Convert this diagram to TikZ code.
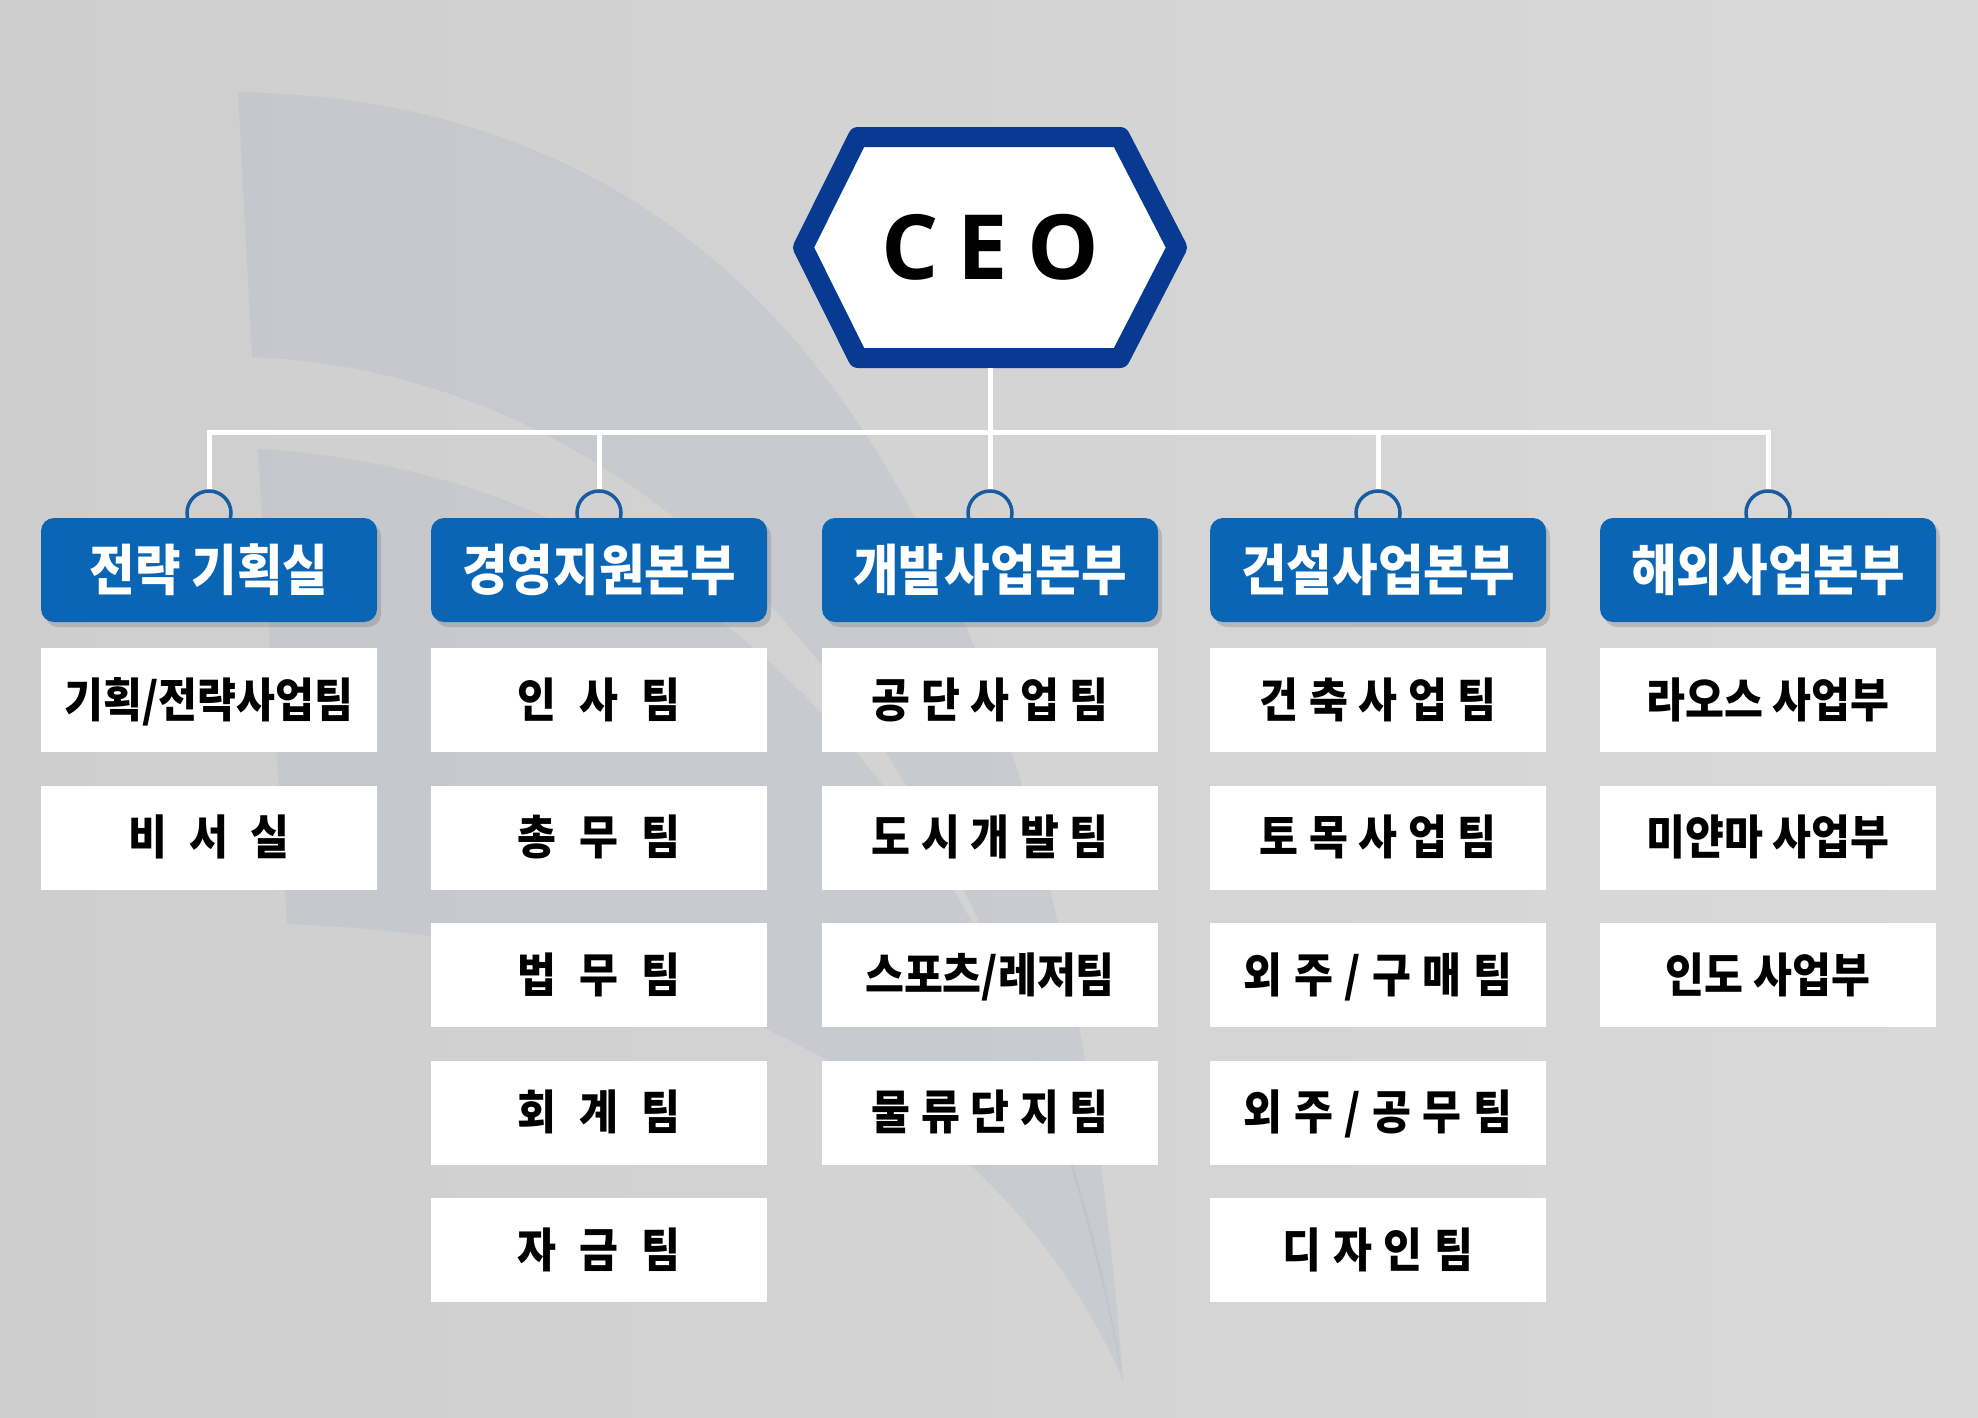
\documentclass[tikz,border=0pt]{standalone}
\usepackage{fontspec}
\usetikzlibrary{shadows,calc}
\newfontfamily\krfont{Noto Sans CJK KR}[FakeStretch=0.9]
\newfontfamily\ceofont{Open Sans}
\definecolor{hexblue}{RGB}{8,58,146}
\definecolor{headblue}{RGB}{10,102,180}
\definecolor{ringblue}{RGB}{24,92,160}
\definecolor{bgL}{RGB}{206,206,206}
\definecolor{bgM}{RGB}{224,224,224}
\definecolor{bgR}{RGB}{217,217,217}
\definecolor{swooshc}{RGB}{160,175,195}
\newcommand\headfont{\krfont\bfseries\fontsize{55}{64}\selectfont}
\newcommand\teamfont{\krfont\bfseries\fontsize{47}{56}\selectfont}
\begin{document}
\begin{tikzpicture}[x=1pt,y=-1pt,
  wire/.style={draw=white, line width=5pt},
  ring/.style={circle, draw=ringblue, line width=3.5pt, minimum size=44pt, inner sep=0pt},
  headbox/.style={rectangle, rounded corners=13pt, fill=headblue, text=white,
    minimum width=336pt, minimum height=104pt, inner sep=0pt, font=\headfont,
    text height=44pt, text depth=3.9pt,
    drop shadow={shadow xshift=4pt, shadow yshift=-5pt, opacity=0.35}},
  teambox/.style={rectangle, fill=white, text=black, minimum width=336pt,
    minimum height=104pt, inner sep=0pt, text height=37.6pt, text depth=3.3pt,
    font={\teamfont\spaceskip=#1\relax}},
  teambox/.default=0pt,
  ceostyle/.style={font={\ceofont\bfseries\fontsize{90}{100}\selectfont\spaceskip=19pt\relax},
    minimum width=394pt, minimum height=241pt, inner sep=0pt, text=black},
  hexline/.style={draw=hexblue, line width=20pt, line join=round, fill=white},
  swoosh/.style={fill=swooshc, fill opacity=0.22, draw=none}
]
\useasboundingbox (0,0) rectangle (1978,1417);
% background
\shade[left color=bgL, middle color=bgM, right color=bgR] (0,0) rectangle (1978,1417);
\path[swoosh] (238,92) .. controls (700,100) and (1050,420) .. (1123,1380)
   .. controls (980,650) and (600,370) .. (252,357) -- cycle;
\path[swoosh] (258,449) .. controls (650,470) and (1020,760) .. (1123,1380)
   .. controls (1000,1100) and (700,940) .. (287,924) -- cycle;

% CEO
\draw[hexline] (803,247.5) -- (858,137) -- (1120,137) -- (1177,247.5) -- (1120,358) -- (858,358) -- cycle;
\node[ceostyle] (ceo) at (990,247.5) {C E O};

% rings
\node[ring] (r1) at (209,513) {};
\node[ring] (r2) at (599,513) {};
\node[ring] (r3) at (990,513) {};
\node[ring] (r4) at (1378,513) {};
\node[ring] (r5) at (1768,513) {};

% wires
\coordinate (bus) at (990,432);
\draw[wire] (ceo.south) -- (bus);
\draw[wire, line join=miter] (r1.north) -- (r1.north |- bus) -- (r5.north |- bus) -- (r5.north);
\draw[wire] (r2.north) -- (r2.north |- bus);
\draw[wire] (r3.north) -- (r3.north |- bus);
\draw[wire] (r4.north) -- (r4.north |- bus);

% heads
\node[headbox] (h1) at (209,570) {전략 기획실};
\node[headbox] (h2) at (599,570) {경영지원본부};
\node[headbox] (h3) at (990,570) {개발사업본부};
\node[headbox] (h4) at (1378,570) {건설사업본부};
\node[headbox] (h5) at (1768,570) {해외사업본부};

% column 1
\node[teambox] (t11) at (209,700) {기획/전략사업팀};
\node[teambox=22pt] (t12) at (209,837.5) {비 서 실};
% column 2
\node[teambox=23.5pt] (t21) at (599,700) {인 사 팀};
\node[teambox=23.5pt] (t22) at (599,837.5) {총 무 팀};
\node[teambox=23.5pt] (t23) at (599,975) {법 무 팀};
\node[teambox=23.5pt] (t24) at (599,1112.5) {회 계 팀};
\node[teambox=23.5pt] (t25) at (599,1250) {자 금 팀};
% column 3
\node[teambox=10.6pt] (t31) at (990,700) {공 단 사 업 팀};
\node[teambox=10.6pt] (t32) at (990,837.5) {도 시 개 발 팀};
\node[teambox] (t33) at (990,975) {스포츠/레저팀};
\node[teambox=10.6pt] (t34) at (990,1112.5) {물 류 단 지 팀};
% column 4
\node[teambox=10.6pt] (t41) at (1378,700) {건 축 사 업 팀};
\node[teambox=10.6pt] (t42) at (1378,837.5) {토 목 사 업 팀};
\node[teambox=11.5pt] (t43) at (1378,975) {외 주 / 구 매 팀};
\node[teambox=11.5pt] (t44) at (1378,1112.5) {외 주 / 공 무 팀};
\node[teambox=12pt] (t45) at (1378,1250) {디 자 인 팀};
% column 5
\node[teambox] (t51) at (1768,700) {라오스 사업부};
\node[teambox] (t52) at (1768,837.5) {미얀마 사업부};
\node[teambox] (t53) at (1768,975) {인도 사업부};
\end{tikzpicture}
\end{document}
